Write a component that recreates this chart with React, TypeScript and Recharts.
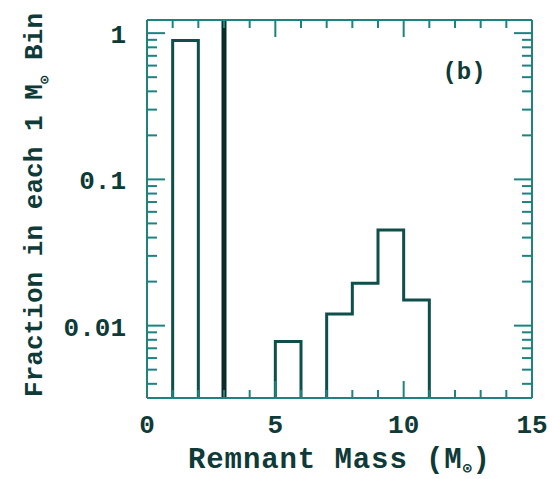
import React from 'react';
import { ComposedChart, Line, XAxis, YAxis, ReferenceLine, Customized } from 'recharts';

// histogram bins (1 Msun wide), value = fraction in bin
const binLeft = [1, 5, 7, 8, 9, 10];
const binFraction = [0.89, 0.0078, 0.012, 0.0195, 0.045, 0.015];
const BIN_WIDTH = 1;
const cutoffMass = 3;

const xTicks = [0, 1, 2, 3, 4, 5, 6, 7, 8, 9, 10, 11, 12, 13, 14, 15];
const xLabelTicks = [0, 5, 10, 15];
const yTicks = [
  0.004, 0.005, 0.006, 0.007, 0.008, 0.009,
  0.01, 0.02, 0.03, 0.04, 0.05, 0.06, 0.07, 0.08, 0.09,
  0.1, 0.2, 0.3, 0.4, 0.5, 0.6, 0.7, 0.8, 0.9,
  1,
];
const yLabelTicks = [0.01, 0.1, 1];
const Y_DOMAIN: [number, number] = [0.0032, 1.23];

const FRAME = '#1c837f';
const LINE = '#0f4f4b';
const TEXT = '#0e3a37';
const FONT = '"Liberation Mono", "DejaVu Sans Mono", monospace';

type Pt = { x: number; y: number };

// adjacent bins become one outline standing on the bottom of the axis
function buildOutlines(): Pt[][] {
  const base = Y_DOMAIN[0];
  const groups: Pt[][] = [];
  let cur: Pt[] | null = null;
  let prevRight = NaN;
  binLeft.forEach((left, i) => {
    const right = left + BIN_WIDTH;
    const v = binFraction[i];
    if (cur && prevRight === left) {
      cur.push({ x: left, y: v }, { x: right, y: v });
    } else {
      if (cur) {
        cur.push({ x: prevRight, y: base });
        groups.push(cur);
      }
      cur = [{ x: left, y: base }, { x: left, y: v }, { x: right, y: v }];
    }
    prevRight = right;
  });
  if (cur) {
    (cur as Pt[]).push({ x: prevRight, y: base });
    groups.push(cur);
  }
  return groups;
}

const outlines = buildOutlines();

// inward ticks, labels only on bottom/left
const xTick = (side: 'bottom' | 'top') => (props: any) => {
  const { x, y, payload } = props;
  const major = xLabelTicks.includes(payload.value);
  const len = major ? 17 : 8;
  const dir = side === 'bottom' ? -1 : 1;
  return (
    <g>
      <path d={`M${x},${y}L${x},${y + dir * len}`} stroke={FRAME} strokeWidth={2} fill="none" />
      {side === 'bottom' && major && (
        <text x={x} y={y + 35} textAnchor="middle" fontFamily={FONT} fontWeight="bold" fontSize={26} fill={TEXT}>
          {payload.value}
        </text>
      )}
    </g>
  );
};

const yTick = (side: 'left' | 'right') => (props: any) => {
  const { x, y, payload } = props;
  const major = yLabelTicks.includes(payload.value);
  const len = major ? 18 : 10;
  const dir = side === 'left' ? 1 : -1;
  return (
    <g>
      <path d={`M${x},${y}L${x + dir * len},${y}`} stroke={FRAME} strokeWidth={2} fill="none" />
      {side === 'left' && major && (
        <text x={x - 21} y={y + 10} textAnchor="end" fontFamily={FONT} fontWeight="bold" fontSize={26} fill={TEXT}>
          {payload.value}
        </text>
      )}
    </g>
  );
};

const Texts = () => (
  <g fontFamily={FONT} fontWeight="bold" fill={TEXT}>
    <text x={339} y={468} textAnchor="middle" fontSize={29} textLength={302}>
      Remnant Mass (M<tspan fontSize={15} dy={5}>⊙</tspan><tspan dy={-5}>)</tspan>
    </text>
    <text transform="translate(42, 205) rotate(-90)" x={0} y={0} textAnchor="middle" fontSize={26} textLength={384}>
      Fraction in each 1 M<tspan fontSize={14} dy={7}>⊙</tspan><tspan dy={-7}> Bin</tspan>
    </text>
    <text x={464} y={79} textAnchor="middle" fontSize={24}>(b)</text>
  </g>
);

export default function App() {
  return (
    <div style={{ position: 'fixed', left: 0, top: 0, width: 552, height: 479, background: '#fff' }}>
      <ComposedChart width={552} height={479} margin={{ top: 19, right: 19, bottom: 0, left: 7 }}>
        <XAxis
          xAxisId="b"
          type="number"
          dataKey="x"
          domain={[0, 15]}
          ticks={xTicks}
          interval={0}
          height={81}
          tickSize={0}
          tickMargin={0}
          tickLine={false}
          axisLine={{ stroke: FRAME, strokeWidth: 2 }}
          tick={xTick('bottom')}
          allowDataOverflow
        />
        <XAxis
          xAxisId="t"
          orientation="top"
          type="number"
          dataKey="x"
          domain={[0, 15]}
          ticks={xTicks}
          interval={0}
          height={1}
          tickSize={0}
          tickMargin={0}
          tickLine={false}
          axisLine={{ stroke: FRAME, strokeWidth: 2 }}
          tick={xTick('top')}
          allowDataOverflow
        />
        <YAxis
          yAxisId="l"
          scale="log"
          type="number"
          domain={Y_DOMAIN}
          ticks={yTicks}
          interval={0}
          width={140}
          tickSize={0}
          tickMargin={0}
          tickLine={false}
          axisLine={{ stroke: FRAME, strokeWidth: 2 }}
          tick={yTick('left')}
          allowDataOverflow
        />
        <YAxis
          yAxisId="r"
          orientation="right"
          scale="log"
          type="number"
          domain={Y_DOMAIN}
          ticks={yTicks}
          interval={0}
          width={1}
          tickSize={0}
          tickMargin={0}
          tickLine={false}
          axisLine={{ stroke: FRAME, strokeWidth: 2 }}
          tick={yTick('right')}
          allowDataOverflow
        />
        <ReferenceLine xAxisId="b" yAxisId="l" x={cutoffMass} stroke="#0a2c29" strokeWidth={5} />
        {outlines.map((pts, i) => (
          <Line
            key={i}
            xAxisId="b"
            yAxisId="l"
            data={pts}
            dataKey="y"
            type="linear"
            stroke={LINE}
            strokeWidth={3}
            dot={false}
            activeDot={false}
            isAnimationActive={false}
          />
        ))}
        <Customized component={Texts} />
      </ComposedChart>
    </div>
  );
}
